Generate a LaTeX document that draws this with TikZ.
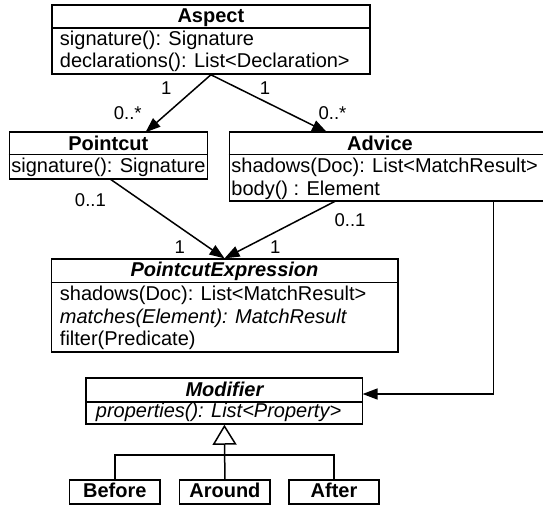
\documentclass[tikz,border=0pt]{standalone}
\usepackage{fontspec}
\setmainfont{Liberation Sans}
\usetikzlibrary{arrows.meta}
\begin{document}
\begin{tikzpicture}[x=1pt,y=-1pt,line width=1.5pt,
  cls/.style={draw,inner sep=0pt,line width=1.5pt},
  ttl/.style={font=\fontsize{20}{22}\selectfont\bfseries,anchor=base,inner sep=0pt},
  ttli/.style={font=\fontsize{20}{22}\selectfont\bfseries\itshape,anchor=base,inner sep=0pt},
  mem/.style={font=\fontsize{20}{22}\selectfont,anchor=base west,inner sep=0pt},
  memi/.style={font=\fontsize{20}{22}\selectfont\itshape,anchor=base west,inner sep=0pt},
  lbl/.style={font=\fontsize{18.5}{20}\selectfont,inner sep=0pt},
  assoc/.style={-{Triangle[length=15pt,width=11pt]}},
  gen/.style={-{Triangle[open,length=20pt,width=24pt]}}]
\useasboundingbox (0,0) rectangle (543,506);

% Aspect
\node[cls,minimum width=318pt,minimum height=69pt] (aspect) at (210.9,39.5) {};
\draw (aspect.west |- 0,28) -- (aspect.east |- 0,28);
\node[ttl] (aspectT) at (210.9,22.7) {Aspect};
\node[mem] (aspectM1) at (59.2,45.7) {signature(): Signature};
\node[mem] (aspectM2) at (59.2,67.2) {declarations(): List<Declaration>};

% Pointcut
\node[cls,minimum width=198pt,minimum height=47pt] (pointcut) at (108.3,155.6) {};
\draw (pointcut.west |- 0,154.3) -- (pointcut.east |- 0,154.3);
\node[ttl] (pointcutT) at (108.3,150) {Pointcut};
\node[mem] (pointcutM1) at (10.6,172.3) {signature(): Signature};

% Advice
\node[cls,minimum width=320pt,minimum height=69pt] (advice) at (389.3,166.6) {};
\draw (advice.west |- 0,154.3) -- (advice.east |- 0,154.3);
\node[ttl] (adviceT) at (380,150) {Advice};
\node[mem] (adviceM1) at (230.7,172.7) {shadows(Doc): List<MatchResult>};
\node[mem] (adviceM2) at (230.7,195) {body() : Element};

% PointcutExpression
\node[cls,minimum width=346.5pt,minimum height=93pt] (pe) at (224.5,305.6) {};
\draw (pe.west |- 0,282.7) -- (pe.east |- 0,282.7);
\node[ttli] (peT) at (224.5,276.7) {PointcutExpression};
\node[mem] (peM1) at (59.2,300.3) {shadows(Doc): List<MatchResult>};
\node[memi] (peM2) at (59.2,323) {matches(Element): MatchResult};
\node[mem] (peM3) at (59.2,345.5) {filter(Predicate)};

% Modifier
\node[cls,minimum width=276.4pt,minimum height=46pt] (modifier) at (224.4,401) {};
\draw (modifier.west |- 0,402) -- (modifier.east |- 0,402);
\node[ttli] (modifierT) at (224.4,396) {Modifier};
\node[memi] (modifierM1) at (95.2,417.3) {properties(): List<Property>};

% Subclasses
\node[cls,minimum width=90.4pt,minimum height=24pt] (before) at (114.8,492) {};
\node[ttl] (beforeT) at (114.8,497) {Before};
\node[cls,minimum width=90.4pt,minimum height=24pt] (around) at (224.9,492) {};
\node[ttl] (aroundT) at (224.9,497) {Around};
\node[cls,minimum width=90.4pt,minimum height=24pt] (after) at (334,492) {};
\node[ttl] (afterT) at (334,497) {After};

% Associations
\coordinate (pcTop) at (145.5,132.3);
\coordinate (adTop) at (327,132.3);
\draw[assoc] (aspect.south) -- (pcTop);
\draw[assoc] (aspect.south) -- (adTop);
\node[lbl] (l1) at (166.2,88) {1};
\node[lbl] (l2) at (127.8,113) {0..*};
\node[lbl] (l3) at (265,88) {1};
\node[lbl] (l4) at (332.5,113) {0..*};

\coordinate (pcBot) at (110.1,179);
\coordinate (adBot) at (335.6,201);
\draw[assoc] (pcBot) -- (pe.north);
\draw[assoc] (adBot) -- (pe.north);
\node[lbl] (l5) at (90.4,200) {0..1};
\node[lbl] (l6) at (179.7,247.5) {1};
\node[lbl] (l7) at (350,220) {0..1};
\node[lbl] (l8) at (275.3,247.5) {1};

\coordinate (adDown) at (493.7,201);
\coordinate (modIn) at (362.6,394);
\draw[assoc] (adDown) |- (modIn);

% Generalization
\draw[gen] (around.north) -- (modifier.south);
\coordinate (barL) at (before.north |- 0,455);
\coordinate (barR) at (after.north |- 0,455);
\draw (before.north) -- (barL) -- (barR) -- (after.north);
\end{tikzpicture}
\end{document}
